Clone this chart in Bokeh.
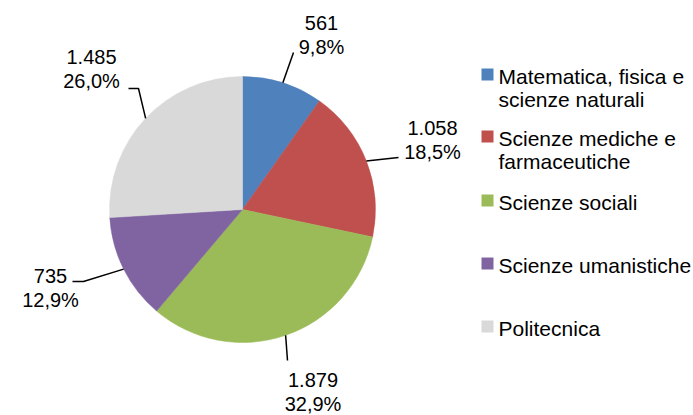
import math
from bokeh.plotting import figure
from bokeh.models import Range1d
from bokeh.core.properties import value
from bokeh.embed import file_html
from bokeh.resources import INLINE

# ---- data ----
categories = ["Matematica, fisica e\nscienze naturali",
              "Scienze mediche e\nfarmaceutiche",
              "Scienze sociali",
              "Scienze umanistiche",
              "Politecnica"]
values = [561, 1058, 1879, 735, 1485]
value_labels = ["561", "1.058", "1.879", "735", "1.485"]
pct_labels = ["9,8%", "18,5%", "32,9%", "12,9%", "26,0%"]
colors = ["#4F81BD", "#C0504D", "#9BBB59", "#8064A2", "#D9D9D9"]

# ---- layout (screen pixels of the picture) ----
W, H = 693, 415
def X(sx): return sx
def Y(sy): return H - sy

CX, CY, R = 242, 209, 133
FONT = "Liberation Sans"
LFS = 20   # label font px
GFS = 21   # legend font px

# label block centres and leader elbow points (screen coords)
label_centres = [(321, 34.5), (432, 139.5), (312.5, 391.5), (50, 287.5), (91, 68.5)]
leader_pts = [[(293, 52)],
              [(398, 157)],
              [(287, 360)],
              [(83, 281), (72, 281)],
              [(138, 88), (128, 88)]]

legend_top = [74, 136, 200, 263, 326]   # square centres
legend_sq_x = 487
legend_text_x = 498

p = figure(width=W, height=H, output_backend="svg", toolbar_location=None,
           x_range=Range1d(0, W), y_range=Range1d(0, H), min_border=0)
p.axis.visible = False
p.grid.visible = False
p.outline_line_color = None
p.background_fill_color = "white"
p.border_fill_color = "white"

total = sum(values)
cum = 0.0
for i, v in enumerate(values):
    f0 = cum / total
    cum += v
    f1 = cum / total
    a0 = math.pi / 2 - 2 * math.pi * f0
    a1 = math.pi / 2 - 2 * math.pi * f1
    p.wedge(x=X(CX), y=Y(CY), radius=R, start_angle=a0, end_angle=a1,
            direction="clock", fill_color=colors[i], line_color=colors[i], line_width=0.5)

    # leader line from pie edge at mid angle
    fm = (f0 + f1) / 2
    ang = 2 * math.pi * fm
    sx = CX + R * math.sin(ang)
    sy = CY - R * math.cos(ang)
    pts = [(sx, sy)] + leader_pts[i]
    p.line([X(a) for a, b in pts], [Y(b) for a, b in pts], line_color="black", line_width=1.5)

    cx, cy = label_centres[i]
    for k, t in enumerate([value_labels[i], pct_labels[i]]):
        ly = cy - 12.25 + 24.5 * k
        p.text(x=[X(cx)], y=[Y(ly)], text=[t], text_font=value(FONT),
               text_font_size=f"{LFS}px", text_align="center", text_baseline="middle",
               text_color="black")

# legend
for i, lab in enumerate(categories):
    sc = legend_top[i]
    p.rect(x=X(legend_sq_x), y=Y(sc), width=12, height=12, fill_color=colors[i], line_color=None)
    for k, t in enumerate(lab.split("\n")):
        ly = sc + 1.5 + 23 * k
        p.text(x=[X(legend_text_x)], y=[Y(ly)], text=[t], text_font=value(FONT),
               text_font_size=f"{GFS}px", text_align="left", text_baseline="middle",
               text_color="black")

open("out.html", "w").write(file_html(p, INLINE))
